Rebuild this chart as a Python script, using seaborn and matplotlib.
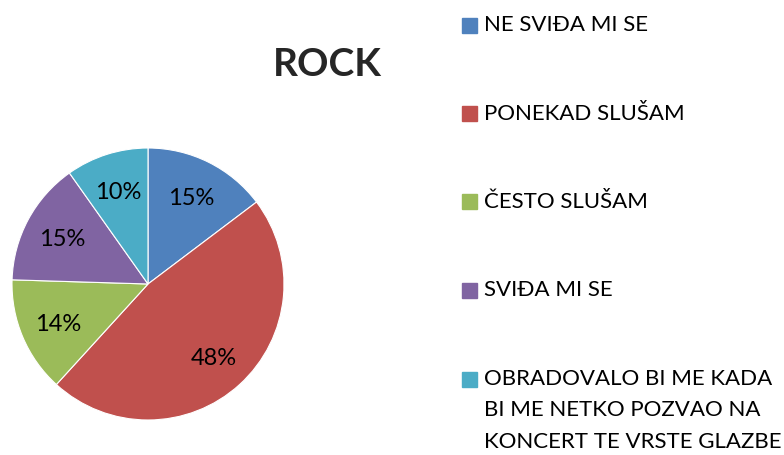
import seaborn as sns
import matplotlib.pyplot as plt
from matplotlib.patches import Rectangle

# data
categories = [
    "NE SVIĐA MI SE",
    "PONEKAD SLUŠAM",
    "ČESTO SLUŠAM",
    "SVIĐA MI SE",
    "OBRADOVALO BI ME KADA\nBI ME NETKO POZVAO NA\nKONCERT TE VRSTE GLAZBE",
]
shares = [15, 48, 14, 15, 10]
pct_labels = [f"{v}%" for v in shares]

colors = ["#4F81BD", "#C0504D", "#9BBB59", "#8064A2", "#4BACC6"]

sns.set_theme(style="white")
plt.rcParams["font.family"] = ["Lato", "DejaVu Sans"]

W, H = 784, 455
fig = plt.figure(figsize=(W / 100, H / 100), dpi=100)

# pie axes: centre (148, 284), radius 136 in pixels
cx, cy, r = 148, 284, 136
ax = fig.add_axes([(cx - r) / W, (H - cy - r) / H, 2 * r / W, 2 * r / H])

palette = sns.color_palette(colors)
wedges, texts = ax.pie(
    shares,
    labels=pct_labels,
    colors=palette,
    startangle=90,
    counterclock=False,
    labeldistance=0.72,
    wedgeprops={"edgecolor": "white", "linewidth": 0.8},
    textprops={"fontsize": 17, "color": "black"},
)
for t in texts:
    t.set_ha("center")
    t.set_va("center_baseline")
ax.set_xlim(-1, 1)
ax.set_ylim(-1, 1)
ax.set_aspect("equal")

fig.text(327 / W, 1 - 65 / H, "ROCK", fontsize=28, fontweight="bold",
         ha="center", va="center")

# legend drawn by hand so the square sits on the first line
row_y = 25
for name, col in zip(categories, palette):
    fig.patches.append(Rectangle((462 / W, 1 - (row_y + 7.5) / H),
                                 15 / W, 15 / H, color=col,
                                 transform=fig.transFigure))
    for i, line in enumerate(name.split("\n")):
        fig.text(484 / W, 1 - (row_y + i * 31.5) / H, line, fontsize=16,
                 ha="left", va="center", color="black")
    row_y += 88.5

fig.savefig("out.png", dpi=100)
